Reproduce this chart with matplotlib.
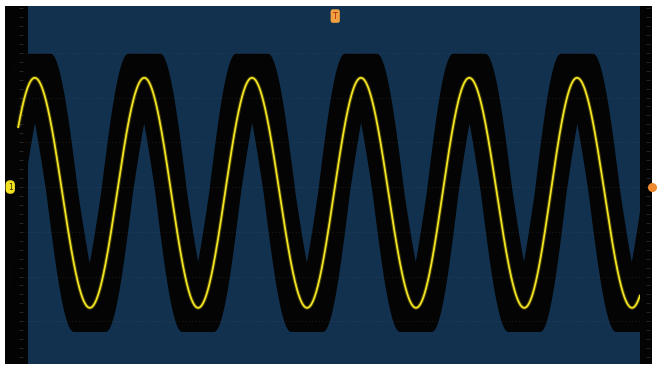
import numpy as np
import matplotlib.pyplot as plt

# scope trace, in divisions (x: 10 div across blue area, y: 0 = centre line)
peak_t = [0.11, 1.90, 3.66, 5.44, 7.21, 8.97, 10.74]
trough_t = [-0.77, 1.01, 2.78, 4.56, 6.34, 8.11, 9.87]
peak_v = 2.44
trough_v = -2.70
# persistence smear around the trace
jitter_t = 0.26
extra_amp = 1.21

ext_t = np.array(sorted(peak_t + trough_t))
ext_v = np.array([peak_v if t in peak_t else trough_v for t in ext_t])
mid = (peak_v + trough_v) / 2


def trace(t):
    i = np.clip(np.searchsorted(ext_t, t) - 1, 0, len(ext_t) - 2)
    t0, t1 = ext_t[i], ext_t[i + 1]
    v0, v1 = ext_v[i], ext_v[i + 1]
    u = np.clip((t - t0) / (t1 - t0), 0, 1)
    return v0 + (v1 - v0) * (1 - np.cos(np.pi * u)) / 2


fig = plt.figure(figsize=(6.57, 3.66), dpi=100, facecolor='white')
ax = fig.add_axes([5 / 657, 2 / 366, 647 / 657, 358 / 366])
ax.set_facecolor('#11314e')
x0, x1 = -0.376, 10.196
ax.set_xlim(x0, x1)
ax.set_ylim(-3.955, 4.045)
ax.set_xticks([])
ax.set_yticks([])
for sp in ax.spines.values():
    sp.set_visible(False)

# side strips
ax.axvspan(x0, 0, color='#030303', zorder=1, lw=0)
ax.axvspan(10.0, x1, color='#030303', zorder=6, lw=0)

# envelope
t = np.linspace(-0.45, 10.3, 2500)
curves = []
for s in np.linspace(-jitter_t, jitter_t, 33):
    for k in np.linspace(1, extra_amp, 6):
        curves.append(mid + k * (trace(t - s) - mid))
curves = np.array(curves)
ax.fill_between(t, curves.min(axis=0), curves.max(axis=0), color='#040404', lw=0, zorder=2)

# graticule
for yv in range(-3, 4):
    ax.hlines(yv, -0.1, 10.0, colors='#7a7060', linestyles=(0, (1, 3)), lw=0.6, alpha=0.3, zorder=3)
ticks = np.arange(-4, 4.01, 0.2)
ax.plot(np.full_like(ticks, -0.12), ticks, ls='none', marker='_', ms=2.5, mew=0.6, color='#2c2c2c', zorder=3)
ax.plot(np.full_like(ticks, 10.13), ticks, ls='none', marker='_', ms=2.5, mew=0.6, color='#2c2c2c', zorder=7)

# trace
tt = np.linspace(-0.16, 10.0, 2000)
ax.plot(tt, trace(tt), color='#c8b810', lw=2.8, alpha=0.3, zorder=4, solid_capstyle='butt')
ax.plot(tt, trace(tt), color='#f2e424', lw=1.3, zorder=5)

# markers
ax.text(-0.29, 0.0, '1', fontsize=5.5, color='#303000', ha='center', va='center', zorder=8,
        bbox=dict(boxstyle='round,pad=0.3,rounding_size=0.6', fc='#f2e020', ec='none'))
ax.plot([10.195], [0.0], marker='o', ms=5.5, color='#f08a30', clip_on=False, zorder=8)
ax.text(5.02, 3.82, 'T', fontsize=5.5, color='#b02000', ha='center', va='center', zorder=8,
        bbox=dict(boxstyle='round,pad=0.3', fc='#f0a040', ec='none'))

fig.savefig('out.png', dpi=100, facecolor='white')
